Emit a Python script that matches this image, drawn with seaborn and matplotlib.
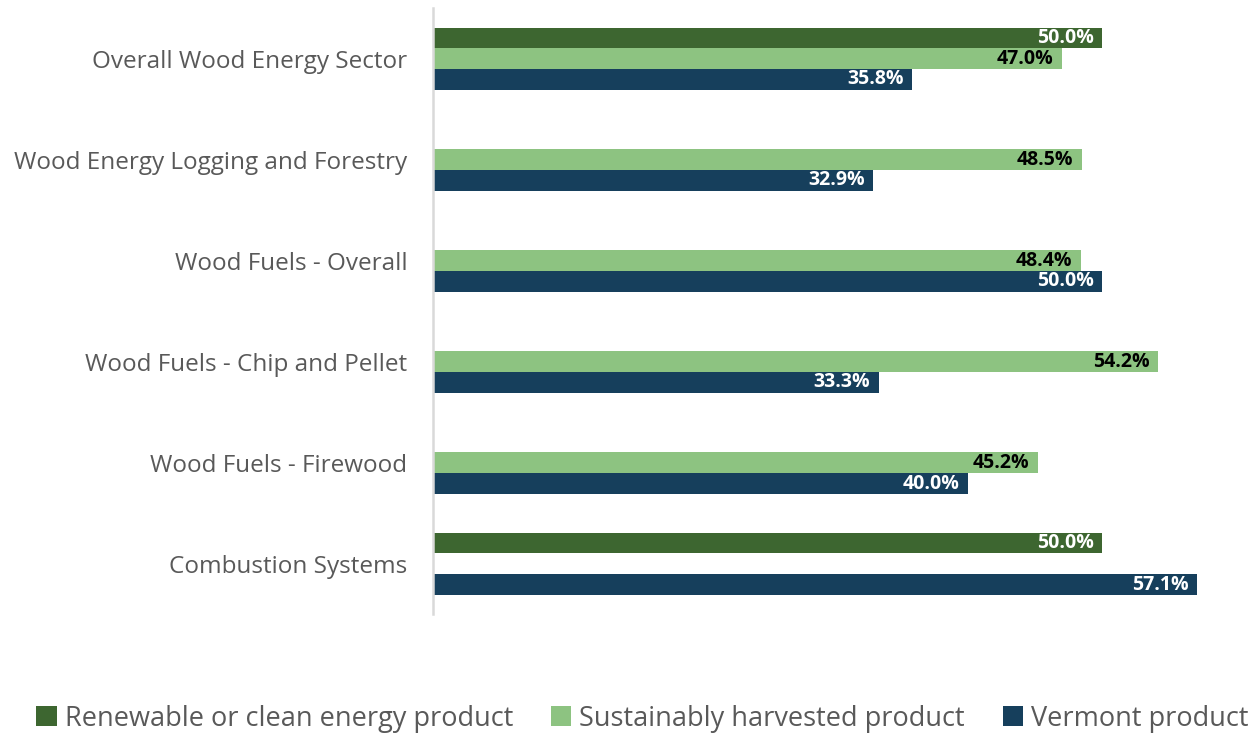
import numpy as np
import pandas as pd
import matplotlib
matplotlib.use("Agg")
import matplotlib.pyplot as plt
import seaborn as sns

categories = [
    "Overall Wood Energy Sector",
    "Wood Energy Logging and Forestry",
    "Wood Fuels - Overall",
    "Wood Fuels - Chip and Pellet",
    "Wood Fuels - Firewood",
    "Combustion Systems",
]
series = [
    "Renewable or clean energy product",
    "Sustainably harvested product",
    "Vermont product",
]
renewable = [50.0, np.nan, np.nan, np.nan, np.nan, 50.0]
sustainable = [47.0, 48.5, 48.4, 54.2, 45.2, np.nan]
vermont = [35.8, 32.9, 50.0, 33.3, 40.0, 57.1]

colors = ["#3D6630", "#8DC381", "#163F5C"]
label_colors = ["white", "black", "white"]

rows = []
for s, vals in zip(series, [renewable, sustainable, vermont]):
    for c, v in zip(categories, vals):
        rows.append({"category": c, "series": s, "value": v})
df = pd.DataFrame(rows)

sns.set_theme(style="white")
plt.rcParams["font.family"] = ["Open Sans", "DejaVu Sans"]

fig = plt.figure(figsize=(12.6, 7.34), dpi=100)
ax = fig.add_axes([0.3437, 0.163, 0.6373, 0.826])

sns.barplot(
    data=df, y="category", x="value", hue="series",
    order=categories, hue_order=series, palette=colors,
    orient="h", width=0.615, saturation=1, errorbar=None,
    linewidth=0, ax=ax, legend=True,
)

ax.set_xlim(0, 60)
ax.set_ylim(5.5, -0.5)
ax.set_xlabel("")
ax.set_ylabel("")
ax.set_xticks([])
ax.tick_params(axis="y", length=0, pad=18.5, labelsize=17.5, labelcolor="#595959")
for side in ["top", "right", "bottom"]:
    ax.spines[side].set_visible(False)
ax.spines["left"].set_color("#D9D9D9")
ax.spines["left"].set_linewidth(1.8)

for cont, lc in zip(ax.containers, label_colors):
    for bar in cont:
        w = bar.get_width()
        if not np.isfinite(w) or w == 0:
            continue
        ax.text(w - 0.65, bar.get_y() + bar.get_height() / 2, f"{w:.1f}%",
                ha="right", va="center", color=lc, fontsize=14,
                fontweight="bold")

handles, labels = ax.get_legend_handles_labels()
ax.legend_.remove()
fig.legend(handles, labels, loc="center", bbox_to_anchor=(0.51, 0.021),
           ncol=3, frameon=False, fontsize=19.5, labelcolor="#595959",
           handlelength=0.75, handleheight=0.75, handletextpad=0.3,
           columnspacing=1.4)

fig.savefig("out.png", dpi=100)
